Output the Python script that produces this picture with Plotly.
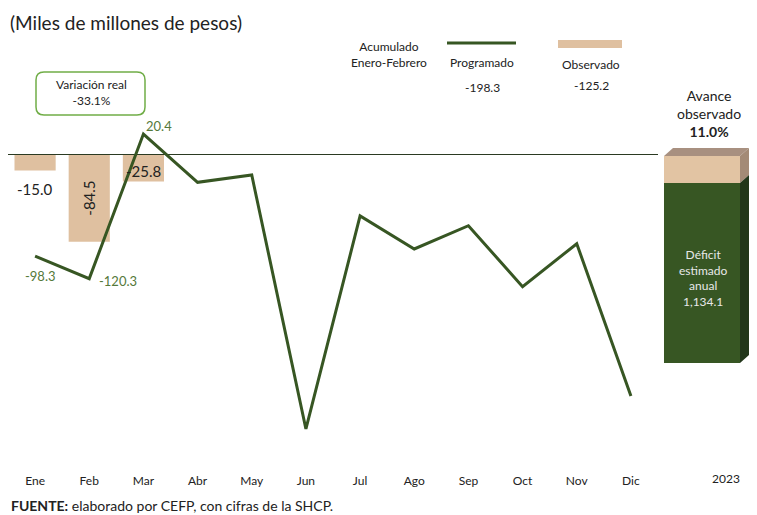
import plotly.graph_objects as go

months = ["Ene", "Feb", "Mar", "Abr", "May", "Jun", "Jul", "Ago", "Sep", "Oct", "Nov", "Dic"]
programado = [-98.3, -120.3, 20.4, -26.6, -19.5, -266.5, -59.3, -91.4, -68.8, -128.1, -86.3, -234.4]
obs_months = ["Ene", "Feb", "Mar"]
observado = [-15.0, -84.5, -25.8]
prog_labels = ["-98.3", "-120.3", "20.4"]
obs_labels = ["-15.0", "-84.5", "-25.8"]
acum_prog = "-198.3"
acum_obs = "-125.2"
variacion_real = "-33.1%"
avance = "11.0%"
deficit_anual = "1,134.1"
year_label = "2023"

FONT = "Lato"
GREEN = "#375623"
TAN = "#DFC0A0"
LBLGREEN = "#55793A"

# page body has an 8px margin: design in screen pixels, figure offset by OFF
OFF = 8
W, H = 757 - OFF, 515 - OFF
# plot area in screen pixels
SX0, SX1, SY0, SY1 = 8, 658, 100, 468
L, R, T, B = SX0 - OFF, W - (SX1 - OFF), SY0 - OFF, H - (SY1 - OFF)
PW, PH = SX1 - SX0, SY1 - SY0


def px(x):
    return (x - SX0) / PW


def py(y):
    return (SY1 - y) / PH


fig = go.Figure()
fig.add_trace(go.Bar(x=obs_months, y=observado, marker=dict(color=TAN, line=dict(width=0)),
                     width=0.76, name="Observado", hoverinfo="x+y"))
fig.add_trace(go.Scatter(x=months, y=programado, mode="lines", line=dict(color=GREEN, width=3),
                         name="Programado", cliponaxis=False))

ann = []
# bar labels
ann.append(dict(x=obs_months[0], y=observado[0], text=obs_labels[0], showarrow=False,
                yanchor="top", yshift=-8, font=dict(size=15, color="#222")))
ann.append(dict(x=obs_months[1], y=observado[1] / 2, text=obs_labels[1], showarrow=False,
                textangle=-90, font=dict(size=15, color="#222")))
ann.append(dict(x=obs_months[2], y=observado[2] / 2, text=obs_labels[2], showarrow=False,
                yshift=-3, font=dict(size=15, color="#222")))
# line labels
ann.append(dict(x=months[0], y=programado[0], text=prog_labels[0], showarrow=False,
                yanchor="top", yshift=-10, xshift=5, font=dict(size=13, color=LBLGREEN)))
ann.append(dict(x=months[1], y=programado[1], text=prog_labels[1], showarrow=False,
                xanchor="left", xshift=8, yshift=-2, font=dict(size=13, color=LBLGREEN)))
ann.append(dict(x=months[2], y=programado[2], text=prog_labels[2], showarrow=False,
                xanchor="left", yanchor="bottom", xshift=1, yshift=-2, font=dict(size=13, color=LBLGREEN)))


def pann(x, y, text, size=12, color="#222", xanchor="center", yanchor="middle"):
    ann.append(dict(xref="paper", yref="paper", x=px(x), y=py(y), text=text, showarrow=False,
                    xanchor=xanchor, yanchor=yanchor, font=dict(size=size, color=color, family=FONT)))


pann(8, 22, "(Miles de millones de pesos)", size=19, xanchor="left")
pann(389, 54, "Acumulado<br>Enero-Febrero", size=12)
pann(482, 62, "Programado", size=12)
pann(482, 87, acum_prog, size=12)
pann(591, 64, "Observado", size=12)
pann(591, 85, acum_obs, size=12)
pann(91, 93, "Variación real<br>" + variacion_real, size=12)
pann(709, 114, "Avance<br>observado<br><b>" + avance + "</b>", size=14)
pann(703, 278, "Déficit<br>estimado<br>anual<br>" + deficit_anual, size=12, color="#e8e8e8")
pann(726, 478, year_label, size=12)
pann(9, 506, "<b>FUENTE:</b> elaborado por CEFP, con cifras de la SHCP.", size=14, xanchor="left")

shapes = []


def poly(pts, fill):
    d = "M " + " L ".join(f"{px(a):.5f},{py(b):.5f}" for a, b in pts) + " Z"
    shapes.append(dict(type="path", xref="paper", yref="paper", path=d, fillcolor=fill,
                       line=dict(width=0), layer="above"))


# legend marks
shapes.append(dict(type="line", xref="paper", yref="paper", x0=px(447), x1=px(516), y0=py(43), y1=py(43),
                   line=dict(color=GREEN, width=3)))
poly([(558, 40), (622, 40), (622, 48), (558, 48)], TAN)

# rounded box for Variación real
x0, x1, y0, y1, r = 36, 145, 72, 115, 8
d = (f"M {px(x0 + r):.5f},{py(y0):.5f} L {px(x1 - r):.5f},{py(y0):.5f} "
     f"Q {px(x1):.5f},{py(y0):.5f} {px(x1):.5f},{py(y0 + r):.5f} "
     f"L {px(x1):.5f},{py(y1 - r):.5f} Q {px(x1):.5f},{py(y1):.5f} {px(x1 - r):.5f},{py(y1):.5f} "
     f"L {px(x0 + r):.5f},{py(y1):.5f} Q {px(x0):.5f},{py(y1):.5f} {px(x0):.5f},{py(y1 - r):.5f} "
     f"L {px(x0):.5f},{py(y0 + r):.5f} Q {px(x0):.5f},{py(y0):.5f} {px(x0 + r):.5f},{py(y0):.5f} Z")
shapes.append(dict(type="path", xref="paper", yref="paper", path=d, fillcolor="rgba(0,0,0,0)",
                   line=dict(color="#70AD47", width=1.5)))

# 3D box (top, right side and front faces), kept inside the visible area
BX0, BX1, DX, DY = 664, 740, 9, 8
poly([(BX0, 156), (BX0 + DX, 156 - DY), (BX1 + DX, 156 - DY), (BX1, 156)], "#A89080")
poly([(BX1, 156), (BX1 + DX, 156 - DY), (BX1 + DX, 183 - DY), (BX1, 183)], "#A38A76")
poly([(BX1, 183), (BX1 + DX, 183 - DY), (BX1 + DX, 363 - DY), (BX1, 363)], "#22361A")
poly([(BX0, 156), (BX1, 156), (BX1, 183), (BX0, 183)], "#E2C4A3")
poly([(BX0, 183), (BX1, 183), (BX1, 363), (BX0, 363)], GREEN)

fig.update_layout(
    width=W, height=H,
    margin=dict(l=L, r=R, t=T, b=B, pad=0),
    paper_bgcolor="white", plot_bgcolor="white",
    showlegend=False,
    font=dict(family=FONT, color="#222"),
    annotations=ann, shapes=shapes,
)
fig.update_xaxes(type="category", categoryorder="array", categoryarray=months,
                 range=[-0.5, 11.5], showgrid=False, showline=False, ticks="",
                 ticklabelstandoff=4,
                 tickfont=dict(size=12, family=FONT, color="#222"), fixedrange=True)
fig.update_yaxes(range=[-304.5, 53.5], showgrid=False, showticklabels=False, showline=False,
                 zeroline=True, zerolinecolor="#2b3a22", zerolinewidth=1, fixedrange=True)

fig.write_html("out.html")
